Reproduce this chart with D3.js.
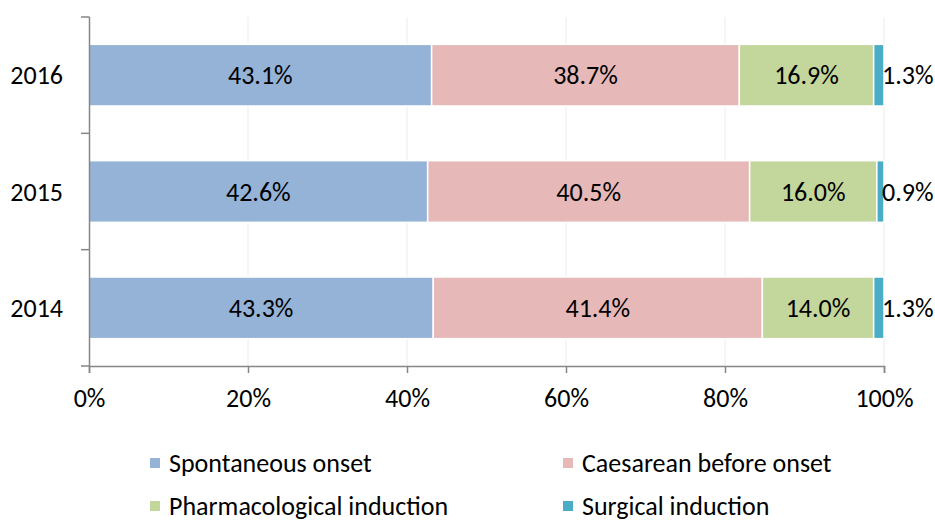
<!DOCTYPE html>
<html>
<head>
<meta charset="utf-8">
<script src="https://cdn.jsdelivr.net/npm/d3@7"></script>
<style>
  body { margin: 0; background: #fff; }
  text { font-family: Carlito, Calibri, Lato, "Open Sans", sans-serif; fill: #000; }
</style>
</head>
<body>
<div id="chart"></div>
<script>
var years = ["2016", "2015", "2014"];
var seriesNames = ["Spontaneous onset", "Caesarean before onset", "Pharmacological induction", "Surgical induction"];
var spontaneous = [43.1, 42.6, 43.3];
var caesarean = [38.7, 40.5, 41.4];
var pharma = [16.9, 16.0, 14.0];
var surgical = [1.3, 0.9, 1.3];
var xTicks = [0, 20, 40, 60, 80, 100];
var colors = ["#95b3d7", "#e6b9b8", "#c3d69b", "#4bacc6"];

var fontSize = "26px";
var rows = years.map(function(y, i) {
  return { year: y, values: [spontaneous[i], caesarean[i], pharma[i], surgical[i]] };
});

var svg = d3.select("#chart").append("svg").attr("width", 935).attr("height", 520),
    margin = {top: 17, left: 89, right: 51, bottom: 154},
    width = 935 - margin.left - margin.right,
    height = 520 - margin.top - margin.bottom;

var g = svg.append("g").attr("transform", "translate(" + margin.left + "," + margin.top + ")");

var x = d3.scaleLinear().domain([0, 100]).range([0, width]);
var y = d3.scaleBand().domain(years).range([0, height]).paddingInner(0.47).paddingOuter(0.235);

// light vertical gridlines
g.selectAll(".grid")
  .data(xTicks.slice(1))
  .enter().append("line")
  .attr("x1", function(d) { return x(d); })
  .attr("x2", function(d) { return x(d); })
  .attr("y1", 0).attr("y2", height)
  .attr("stroke", "#ececec").attr("stroke-width", 1);

var bars = g.selectAll(".row")
  .data(rows)
  .enter().append("g")
  .attr("transform", function(d) { return "translate(0," + y(d.year) + ")"; });

bars.each(function(d) {
  var row = d3.select(this);
  var start = 0;
  d.values.forEach(function(v, k) {
    var x0 = start, x1 = start + v;
    row.append("rect")
      .attr("x", x(x0))
      .attr("width", x(x1) - x(x0))
      .attr("y", 0)
      .attr("height", y.bandwidth())
      .attr("fill", colors[k])
      .attr("stroke", "#fff").attr("stroke-width", 1.5);
    var lx = k == 3 ? x(x1) - 2 : (x(x0) + x(x1)) / 2;
    row.append("text")
      .attr("x", lx)
      .attr("y", y.bandwidth() / 2)
      .attr("dy", "0.35em")
      .attr("text-anchor", k == 3 ? "start" : "middle")
      .style("font-size", fontSize)
      .text(v.toFixed(1) + "%");
    start = x1;
  });
});

// y axis with ticks on category boundaries
var axisColor = "#868686";
g.append("line").attr("x1", 0.5).attr("x2", 0.5).attr("y1", 0).attr("y2", height)
  .attr("stroke", axisColor).attr("stroke-width", 1.5);
var bounds = [0, 1, 2, 3].map(function(i) { return i * height / 3; });
g.selectAll(".ytick").data(bounds).enter().append("line")
  .attr("x1", -8).attr("x2", 0.5)
  .attr("y1", function(d) { return d; }).attr("y2", function(d) { return d; })
  .attr("stroke", axisColor).attr("stroke-width", 1.5);
g.selectAll(".ylabel").data(years).enter().append("text")
  .attr("x", -26)
  .attr("y", function(d) { return y(d) + y.bandwidth() / 2; })
  .attr("dy", "0.35em")
  .attr("text-anchor", "end")
  .style("font-size", fontSize)
  .text(function(d) { return d; });

// x axis
var xAxis = g.append("g")
  .attr("transform", "translate(0," + height + ")")
  .call(d3.axisBottom(x).tickValues(xTicks).tickSize(7).tickPadding(16)
    .tickFormat(function(d) { return d + "%"; }));
xAxis.select(".domain").attr("stroke", axisColor).attr("stroke-width", 1.5);
xAxis.selectAll(".tick line").attr("stroke", axisColor).attr("stroke-width", 1.5);
xAxis.selectAll(".tick text").style("font-size", fontSize).style("font-family", "Carlito, Calibri, Lato, 'Open Sans', sans-serif").attr("fill", "#000");

// legend
var legendPos = [[150, 463], [563, 463], [150, 506], [563, 506]];
var legend = svg.selectAll(".legend")
  .data(seriesNames)
  .enter().append("g")
  .attr("transform", function(d, i) { return "translate(" + legendPos[i][0] + "," + legendPos[i][1] + ")"; });
legend.append("rect")
  .attr("x", 0).attr("y", -5).attr("width", 10).attr("height", 10)
  .attr("fill", function(d, i) { return colors[i]; });
legend.append("text")
  .attr("x", 19).attr("y", 0).attr("dy", "0.35em")
  .style("font-size", fontSize)
  .text(function(d) { return d; });
</script>
</body>
</html>
